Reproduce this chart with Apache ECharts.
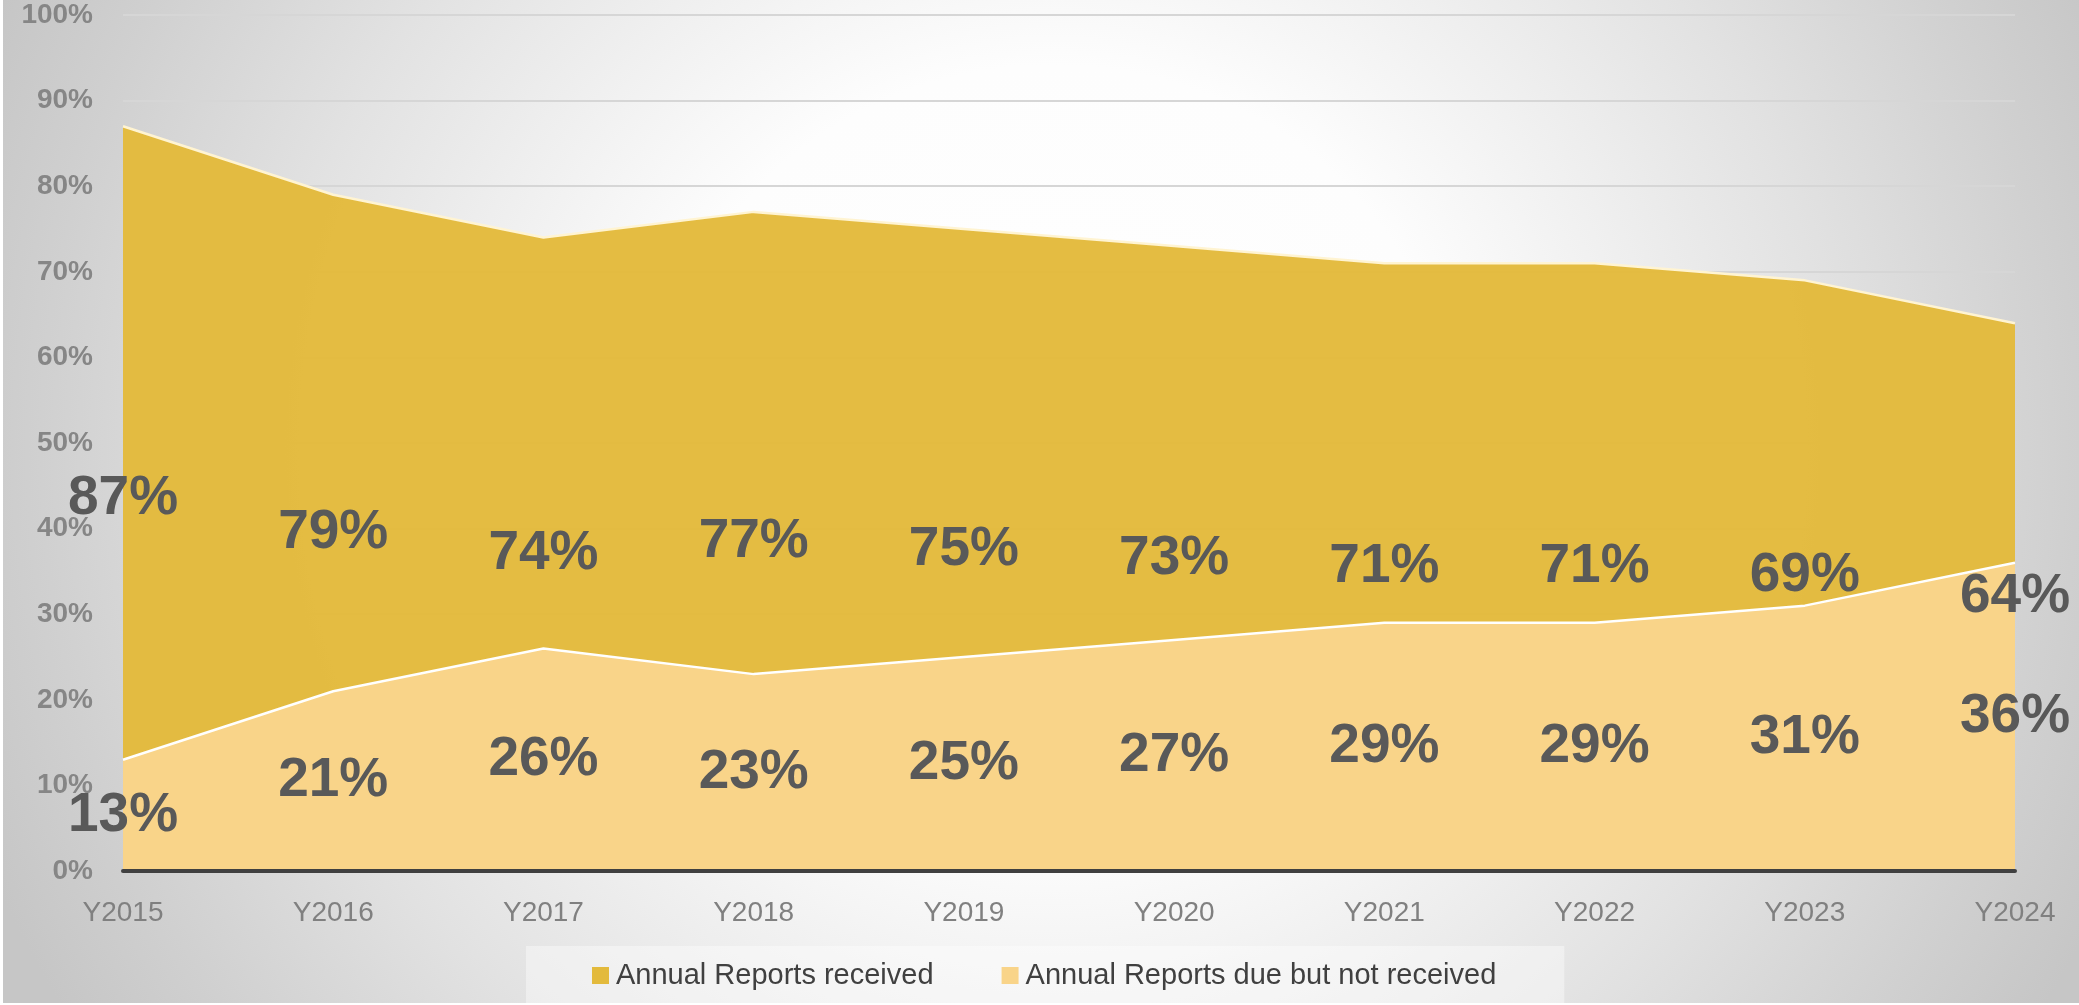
<!DOCTYPE html>
<html>
<head>
<meta charset="utf-8">
<script src="https://cdn.jsdelivr.net/npm/echarts@6/dist/echarts.min.js"></script>
<style>
  html, body { margin: 0; padding: 0; width: 2079px; height: 1005px; overflow: hidden; background: #fff; }
  #chart {
    position: absolute; left: 3px; top: 0; width: 2076px; height: 1003px;
    background:
      radial-gradient(ellipse 1150px 1100px at 1050px 450px, #ffffff 0%, #fdfdfd 35%, #e2e2e2 68%, #d0d0d0 88%, #c6c6c6 100%);
  }
</style>
</head>
<body>
<div id="chart"></div>
<script>
// 年份
var years = ['Y2015', 'Y2016', 'Y2017', 'Y2018', 'Y2019', 'Y2020', 'Y2021', 'Y2022', 'Y2023', 'Y2024'];
// 已收到的年报 (%)
var received = [87, 79, 74, 77, 75, 73, 71, 71, 69, 64];
// 应交未收到 (%)
var notReceived = [13, 21, 26, 23, 25, 27, 29, 29, 31, 36];
var yTicks = [0, 10, 20, 30, 40, 50, 60, 70, 80, 90, 100];

var goldDark = '#e3ba3c';
var goldLight = '#f9d489';

// 标签放在面积中间
function halfOf(list) {
	var out = [];
	for(var i = 0; i < list.length; i++) {
		out.push(list[i] / 2);
	}
	return out;
}

function labelSeries(name, list) {
	return {
		name: name,
		type: 'scatter',
		symbolSize: 0,
		silent: true,
		z: 10,
		data: halfOf(list),
		itemStyle: { opacity: 1 },
		label: {
			show: true,
			position: 'inside',
			opacity: 1,
			formatter: function(p) {
				return list[p.dataIndex] + '%';
			},
			color: '#595959',
			fontFamily: 'Liberation Sans, Arial, sans-serif',
			fontWeight: 'bold',
			fontSize: 55
		}
	};
}

var myChart = echarts.init(document.getElementById('chart'));

var option = {
	backgroundColor: 'transparent',
	animation: false,
	grid: {
		left: 120,
		right: 64,
		top: 15,
		bottom: 132
	},
	legend: {
		left: 523,
		top: 946,
		data: ['Annual Reports received', 'Annual Reports due but not received'],
		backgroundColor: 'rgba(255,255,255,0.4)',
		padding: [15, 68, 15, 66],
		itemWidth: 17,
		itemHeight: 17,
		itemGap: 68,
		icon: 'rect',
		textStyle: {
			color: '#404040',
			fontFamily: 'Liberation Sans, Arial, sans-serif',
			fontSize: 29,
			padding: [0, 0, 0, 2]
		}
	},
	xAxis: {
		type: 'category',
		data: years,
		boundaryGap: false,
		z: 10,
		axisLine: {
			lineStyle: { color: '#404040', width: 4 }
		},
		axisTick: { show: false },
		axisLabel: {
			color: '#808080',
			fontFamily: 'Liberation Sans, Arial, sans-serif',
			fontSize: 28,
			margin: 28
		}
	},
	yAxis: {
		type: 'value',
		min: yTicks[0],
		max: yTicks[yTicks.length - 1],
		interval: yTicks[1] - yTicks[0],
		axisLine: { show: false },
		axisTick: { show: false },
		splitLine: {
			lineStyle: { color: '#d6d6d6', width: 2 }
		},
		axisLabel: {
			color: '#868686',
			fontFamily: 'Liberation Sans, Arial, sans-serif',
			fontWeight: 'bold',
			fontSize: 28,
			margin: 30,
			formatter: '{value}%'
		}
	},
	series: [{
			name: 'Annual Reports received',
			type: 'line',
			data: received,
			symbol: 'none',
			z: 2,
			itemStyle: { color: goldDark },
			lineStyle: { color: '#fff4d2', width: 2.5 },
			areaStyle: { color: goldDark, opacity: 0.97 }
		},
		{
			name: 'Annual Reports due but not received',
			type: 'line',
			data: notReceived,
			symbol: 'none',
			z: 3,
			itemStyle: { color: goldLight },
			lineStyle: { color: '#ffffff', width: 2.5 },
			areaStyle: { color: goldLight, opacity: 1 }
		},
		labelSeries('received label', received),
		labelSeries('not received label', notReceived)
	]
};

myChart.setOption(option);
</script>
</body>
</html>
